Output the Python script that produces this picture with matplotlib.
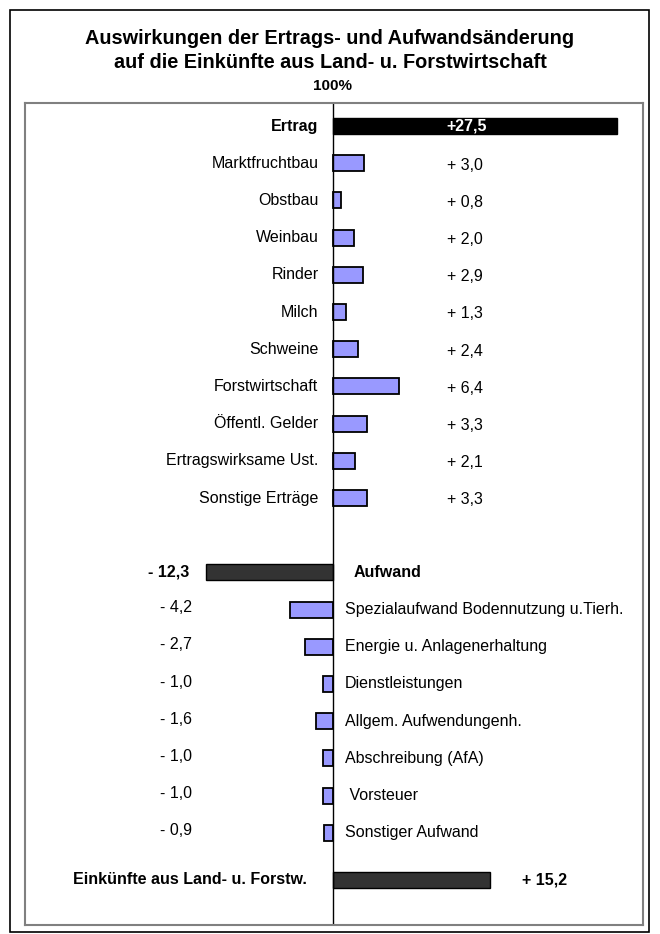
import matplotlib
matplotlib.use("Agg")
import matplotlib.pyplot as plt
from matplotlib.patches import Rectangle

plt.rcParams['font.family'] = ['Liberation Sans', 'DejaVu Sans']

# ---- data ----
ertrag_total = 27.5
ertrag_labels = ["Marktfruchtbau", "Obstbau", "Weinbau", "Rinder", "Milch", "Schweine",
                 "Forstwirtschaft", "Öffentl. Gelder", "Ertragswirksame Ust.", "Sonstige Erträge"]
ertrag_values = [3.0, 0.8, 2.0, 2.9, 1.3, 2.4, 6.4, 3.3, 2.1, 3.3]

aufwand_total = -12.3
aufwand_labels = ["Spezialaufwand Bodennutzung u.Tierh.", "Energie u. Anlagenerhaltung",
                  "Dienstleistungen", "Allgem. Aufwendungenh.", "Abschreibung (AfA)",
                  " Vorsteuer", "Sonstiger Aufwand"]
aufwand_values = [-4.2, -2.7, -1.0, -1.6, -1.0, -1.0, -0.9]

einkuenfte_label = "Einkünfte aus Land- u. Forstw."
einkuenfte_value = 15.2

title_lines = "Auswirkungen der Ertrags- und Aufwandsänderung\nauf die Einkünfte aus Land- u. Forstwirtschaft"
subtitle = "100%"


def fmt(v):
    s = f"{abs(v):.1f}".replace(".", ",")
    return ("+ " if v >= 0 else "- ") + s


W, H = 660, 934
fig = plt.figure(figsize=(W / 100, H / 100), dpi=100)

# outer black frame
fig.patches.append(Rectangle((10 / W, 1 - 932 / H), 639 / W, 922 / H, transform=fig.transFigure,
                             fill=False, edgecolor='black', linewidth=1.2))

fig.text(330 / W, 1 - 38 / H, title_lines.split("\n")[0], ha='center', va='center', fontsize=14.3,
         fontweight='bold')
fig.text(330 / W, 1 - 62 / H, title_lines.split("\n")[1], ha='center', va='center', fontsize=14.3,
         fontweight='bold')
fig.text(332 / W, 1 - 86 / H, subtitle, ha='center', va='center', fontsize=11, fontweight='bold')

ax_l, ax_r, ax_t, ax_b = 25, 643, 103, 925
ax = fig.add_axes([ax_l / W, 1 - ax_b / H, (ax_r - ax_l) / W, (ax_b - ax_t) / H])
for sp in ax.spines.values():
    sp.set_edgecolor('#808080')
    sp.set_linewidth(1.5)
ax.set_xticks([])
ax.set_yticks([])

bh = 0.43
purple = '#9999FF'
dark = '#333333'
fs = 11.5

# Ertrag total
y = 0
ax.barh(y, ertrag_total, height=bh, color='black', edgecolor='black')
ax.text(-1.4, y, "Ertrag", ha='right', va='center', fontsize=fs, fontweight='bold')
ax.text(ertrag_total / 2 - 0.85, y, "+" + f"{ertrag_total:.1f}".replace(".", ","), ha='center',
        va='center', fontsize=fs, fontweight='bold', color='white')

for i, (lab, v) in enumerate(zip(ertrag_labels, ertrag_values)):
    y = 1 + i
    ax.barh(y, v, height=bh, color=purple, edgecolor='black', linewidth=1.3)
    ax.text(-1.4, y, lab, ha='right', va='center', fontsize=fs)
    ax.text(11.0, y + 0.05, fmt(v), ha='left', va='center', fontsize=fs)

# Aufwand total
y = 12
ax.barh(y, aufwand_total, height=bh, color=dark, edgecolor='black')
ax.text(1.95, y, "Aufwand", ha='left', va='center', fontsize=fs, fontweight='bold')
ax.text(-17.9, y, fmt(aufwand_total), ha='left', va='center', fontsize=fs, fontweight='bold')

for i, (lab, v) in enumerate(zip(aufwand_labels, aufwand_values)):
    y = 13 + i
    ax.barh(y, v, height=bh, color=purple, edgecolor='black', linewidth=1.3)
    ax.text(1.15, y, lab, ha='left', va='center', fontsize=fs)
    ax.text(-16.7, y - 0.05, fmt(v), ha='left', va='center', fontsize=fs)

# Einkünfte
y = 20.27
ax.barh(y, einkuenfte_value, height=bh, color=dark, edgecolor='black')
ax.text(-2.5, y, einkuenfte_label, ha='right', va='center', fontsize=fs, fontweight='bold')
ax.text(18.3, y, fmt(einkuenfte_value), ha='left', va='center', fontsize=fs, fontweight='bold')

ax.axvline(0, color='black', linewidth=1.0)

ax.set_xlim(-29.8, 30.0)
ax.set_ylim(21.48, -0.62)

fig.savefig("out.png", dpi=100)
